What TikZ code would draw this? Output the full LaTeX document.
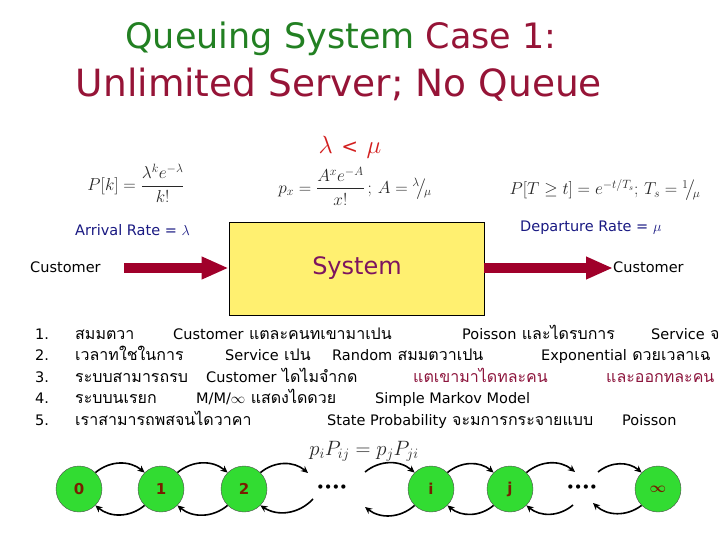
\documentclass[tikz,border=0pt]{standalone}
\usepackage{amsmath}
\usepackage{fontspec}
\usetikzlibrary{arrows.meta}
\newfontfamily\titlefont{DejaVu Sans}
\newfontfamily\thaifont[Script=Thai]{Loma}
\newcommand\en[1]{{\titlefont\fontsize{14.5}{20}\selectfont #1}}
\definecolor{ttlgreen}{RGB}{34,128,34}
\definecolor{ttlred}{RGB}{150,20,55}
\definecolor{lamred}{RGB}{210,30,30}
\definecolor{rateblue}{RGB}{25,25,130}
\definecolor{boxyellow}{RGB}{255,240,112}
\definecolor{arrred}{RGB}{160,0,42}
\definecolor{sysmag}{RGB}{125,20,95}
\definecolor{statgreen}{RGB}{50,220,50}
\definecolor{statlbl}{RGB}{120,30,0}
\definecolor{listred}{RGB}{140,20,60}
\definecolor{formgray}{RGB}{40,40,40}
\tikzset{
  ttl/.style={inner sep=0},
  rate/.style={font=\titlefont\fontsize{14.5}{16}\selectfont, text=rateblue, inner sep=0},
  cust/.style={font=\titlefont\fontsize{14.5}{16}\selectfont, inner sep=0},
  form/.style={font=\fontsize{17}{19}\selectfont, text=formgray, inner sep=0},
  li/.style={font=\thaifont\fontsize{16}{20}\selectfont, anchor=base west, inner sep=0},
  bigarrow/.style={line width=10.5pt, draw=arrred, -{Triangle[length=27pt,width=21pt]}},
  state/.style={circle, draw=black!70, fill=statgreen, minimum size=46pt, inner sep=0,
    font=\titlefont\bfseries\fontsize{15}{18}\selectfont, text=statlbl},
  trans/.style={line width=1.6pt, -{Stealth[length=7pt,width=6.5pt]}},
}
\begin{document}
\begin{tikzpicture}[x=1pt,y=-1pt]
\useasboundingbox (0,0) rectangle (720,540);
% title
\node[ttl, font=\titlefont\fontsize{35}{38}\selectfont] (t1) at (341,39) {\textcolor{ttlgreen}{Queuing System} \textcolor{ttlred}{Case 1:}};
\node[ttl, font=\titlefont\fontsize{37.5}{40}\selectfont, text=ttlred] (t2) at (339,85) {Unlimited Server; No Queue};
\node[inner sep=0, text=lamred, font=\fontsize{28}{30}\selectfont] (lm) at (350,147) {$\lambda$ {\titlefont\fontsize{20}{22}\selectfont<} $\mu$};
% formulas
\node[form] (f1) at (136,183) {$P[k]=\dfrac{\lambda^k e^{-\lambda}}{k!}$};
\node[form] (f2) at (355,186) {$p_x=\dfrac{A^x e^{-A}}{x!}\,;\,A={}^{\lambda}\!\big/\!{}_{\mu}$};
\node[form] (f3) at (605,190) {$P[T\geq t]=e^{-t/T_s};\,T_s={}^{1}\!\big/\!{}_{\mu}$};
% rates
\node[rate, anchor=west] (ar) at (75,230) {Arrival Rate = $\lambda$};
\node[rate, anchor=west] (dr) at (520,228) {Departure Rate = $\mu$};
% system
\node[draw=black, line width=0.8pt, fill=boxyellow, minimum width=255pt, minimum height=93pt] (sys) at (356.5,268.5) {};
\node[text=sysmag, font=\titlefont\fontsize{24}{26}\selectfont, inner sep=0] (syst) at (357,268) {System};
\node[cust, anchor=west] (cl) at (30,267) {Customer};
\node[cust, anchor=west] (cr) at (613,267) {Customer};
\coordinate (al) at (124,268);
\draw[bigarrow] (al) -- (sys.west |- al);
\draw[bigarrow] (sys.east |- al) -- (cr.west |- al);
% list
\foreach \n/\yy in {1/339,2/360,3/382,4/403,5/425}{
  \node[li] (n\n) at (35,\yy) {\en{\n.}};
}
\node[li] (a1) at (75,339) {สมมตวา};
\node[li] (b1) at (173,339) {\en{Customer} แตละคนทเขามาเปน};
\node[li] (c1) at (462,339) {\en{Poisson} และไดรบการ};
\node[li] (d1) at (651,339) {\en{Service} จ};
\node[li] (a2) at (75,360) {เวลาทใชในการ};
\node[li] (b2) at (225,360) {\en{Service} เปน};
\node[li] (c2) at (332,360) {\en{Random} สมมตวาเปน};
\node[li] (d2) at (541,360) {\en{Exponential} ดวยเวลาเฉ};
\node[li] (a3) at (75,382) {ระบบสามารถรบ};
\node[li] (b3) at (206,382) {\en{Customer} ไดไมจำกด};
\node[li, text=listred] (c3) at (413,382) {แตเขามาไดทละคน};
\node[li, text=listred] (d3) at (606,382) {และออกทละคน};
\node[li] (a4) at (75,403) {ระบบนเรยก};
\node[li] (b4) at (196,403) {\en{M/M/$\infty$} แสดงไดดวย};
\node[li] (c4) at (375,403) {\en{Simple Markov Model}};
\node[li] (a5) at (75,425) {เราสามารถพสจนไดวาคา};
\node[li] (b5) at (327,425) {\en{State Probability} จะมการกระจายแบบ};
\node[li] (c5) at (622,425) {\en{Poisson}};
% balance
\node[inner sep=0, font=\fontsize{21}{23}\selectfont, text=formgray] (bal) at (364,451) {$p_iP_{ij}=p_jP_{ji}$};
% chain
\node[state] (s0) at (79,489) {0};
\node[state] (s1) at (161,489) {1};
\node[state] (s2) at (244,489) {2};
\node[state] (si) at (431,489) {i};
\node[state] (sj) at (510,489) {j};
\node[state] (sinf) at (658,489) {$\boldsymbol{\infty}$};
\node[inner sep=0, font=\titlefont\bfseries\fontsize{12}{12}\selectfont] (d1l) at (332,488) {••••};
\node[inner sep=0, font=\titlefont\bfseries\fontsize{12}{12}\selectfont] (d2l) at (582,488) {••••};
\coordinate (p2t) at (308,473);
\coordinate (p2b) at (313,499);
\coordinate (pit) at (365,472);
\coordinate (pib) at (365,507);
\coordinate (pjt) at (575,472);
\coordinate (pjb) at (573,505);
\coordinate (pnt) at (598,472);
\coordinate (pnb) at (593,503);
\draw[trans] (s0.45) to[bend left=40] (s1.135);
\draw[trans] (s1.45) to[bend left=40] (s2.135);
\draw[trans] (s2.45) to[bend left=40] (p2t);
\draw[trans] (pit) to[bend left=40] (si.135);
\draw[trans] (si.45) to[bend left=40] (sj.135);
\draw[trans] (sj.45) to[bend left=40] (pjt);
\draw[trans] (pnt) to[bend left=40] (sinf.135);
\draw[trans] (s1.-135) to[bend left=40] (s0.-45);
\draw[trans] (s2.-135) to[bend left=40] (s1.-45);
\draw[trans] (p2b) to[bend left=40] (s2.-45);
\draw[trans] (si.-135) to[bend left=40] (pib);
\draw[trans] (sj.-135) to[bend left=40] (si.-45);
\draw[trans] (pjb) to[bend left=40] (sj.-45);
\draw[trans] (sinf.-135) to[bend left=40] (pnb);
\end{tikzpicture}
\end{document}
